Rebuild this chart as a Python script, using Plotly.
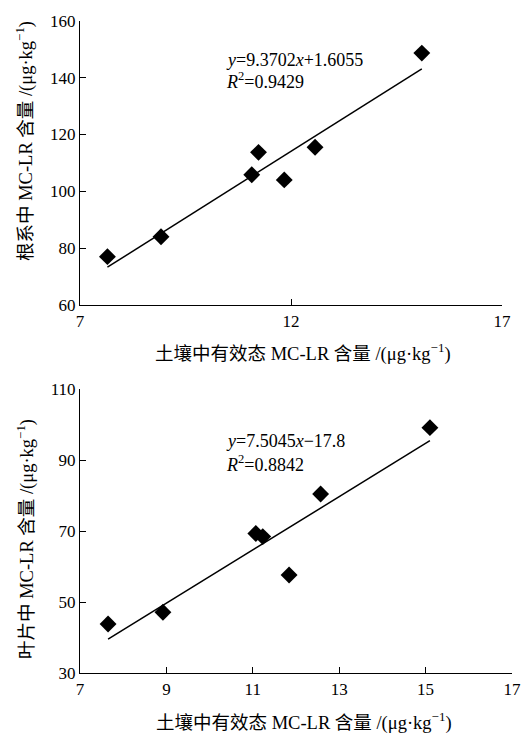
import plotly.graph_objects as go

# ---- data ----
soil_mclr = [7.65, 8.92, 11.07, 11.23, 11.84, 12.57, 15.10]
root_mclr = [77.0, 84.0, 105.8, 113.7, 104.0, 115.5, 148.6]
leaf_mclr = [43.9, 47.2, 69.4, 68.5, 57.7, 80.5, 99.2]
root_fit = (9.3702, 1.6055)
leaf_fit = (7.5045, -17.8)
x_ticks_top = [7, 12, 17]
y_ticks_top = [60, 80, 100, 120, 140, 160]
x_ticks_bottom = [7, 9, 11, 13, 15, 17]
y_ticks_bottom = [30, 50, 70, 90, 110]

W, H = 529, 735
FONT = "Liberation Serif, Times New Roman, Noto Sans CJK SC, serif"

def px(x):
    return x / W

def py(y):
    return 1 - y / H

fig = go.Figure()

xs = [min(soil_mclr), max(soil_mclr)]
# top: root
fig.add_trace(go.Scatter(x=soil_mclr, y=root_mclr, mode="markers",
                         marker=dict(symbol="diamond", size=13, color="black"),
                         xaxis="x", yaxis="y", showlegend=False))
fig.add_trace(go.Scatter(x=xs, y=[root_fit[0] * v + root_fit[1] for v in xs], mode="lines",
                         line=dict(color="black", width=1.5),
                         xaxis="x", yaxis="y", showlegend=False))
# bottom: leaf
fig.add_trace(go.Scatter(x=soil_mclr, y=leaf_mclr, mode="markers",
                         marker=dict(symbol="diamond", size=13, color="black"),
                         xaxis="x2", yaxis="y2", showlegend=False))
fig.add_trace(go.Scatter(x=xs, y=[leaf_fit[0] * v + leaf_fit[1] for v in xs], mode="lines",
                         line=dict(color="black", width=1.5),
                         xaxis="x2", yaxis="y2", showlegend=False))

axis_common = dict(showgrid=False, zeroline=False, showline=True, linecolor="black",
                   linewidth=1.2, ticks="inside", ticklen=6, tickcolor="black",
                   tickwidth=1.2, tickfont=dict(family=FONT, size=17, color="black"),
                   automargin=False)

fig.update_layout(
    width=W, height=H,
    margin=dict(l=0, r=0, t=0, b=0),
    paper_bgcolor="white", plot_bgcolor="white",
    font=dict(family=FONT, color="black"),
    xaxis=dict(domain=[px(80), px(502)], range=[7, 17], tickvals=x_ticks_top,
               anchor="y", **axis_common),
    yaxis=dict(domain=[py(305), py(20.7)], range=[60, 160], tickvals=y_ticks_top,
               anchor="x", **axis_common),
    xaxis2=dict(domain=[px(80), px(512)], range=[7, 17], tickvals=x_ticks_bottom,
                anchor="y2", **axis_common),
    yaxis2=dict(domain=[py(673.3), py(389.3)], range=[30, 110], tickvals=y_ticks_bottom,
                anchor="x2", **axis_common),
)

ann_font = dict(family=FONT, size=18, color="black")
title_font = dict(family=FONT, size=18.5, color="black")
xtitle = "土壤中有效态 MC-LR 含量 /(μg·kg<sup>−1</sup>)"
annotations = [
    dict(text="<i>y</i>=9.3702<i>x</i>+1.6055", x=px(224), y=py(60), xanchor="left", yanchor="middle", font=ann_font),
    dict(text="<i>R</i><sup>2</sup>=0.9429", x=px(224), y=py(80), xanchor="left", yanchor="middle", font=ann_font),
    dict(text="<i>y</i>=7.5045<i>x</i>−17.8", x=px(224), y=py(441), xanchor="left", yanchor="middle", font=ann_font),
    dict(text="<i>R</i><sup>2</sup>=0.8842", x=px(224), y=py(463), xanchor="left", yanchor="middle", font=ann_font),
    dict(text=xtitle, x=px(303), y=py(352), xanchor="center", yanchor="middle", font=title_font),
    dict(text=xtitle, x=px(304), y=py(721), xanchor="center", yanchor="middle", font=title_font),
    dict(text="根系中 MC-LR 含量 /(μg·kg<sup>−1</sup>)", x=px(25), y=py(141), textangle=-90,
         xanchor="center", yanchor="middle", font=title_font),
    dict(text="叶片中 MC-LR 含量 /(μg·kg<sup>−1</sup>)", x=px(25), y=py(539), textangle=-90,
         xanchor="center", yanchor="middle", font=title_font),
]
for a in annotations:
    a.update(xref="paper", yref="paper", showarrow=False)
fig.update_layout(annotations=annotations)

fig.write_html("out.html", config={"displayModeBar": False},
               post_script="document.body.style.margin='0';document.body.style.overflow='hidden';")
